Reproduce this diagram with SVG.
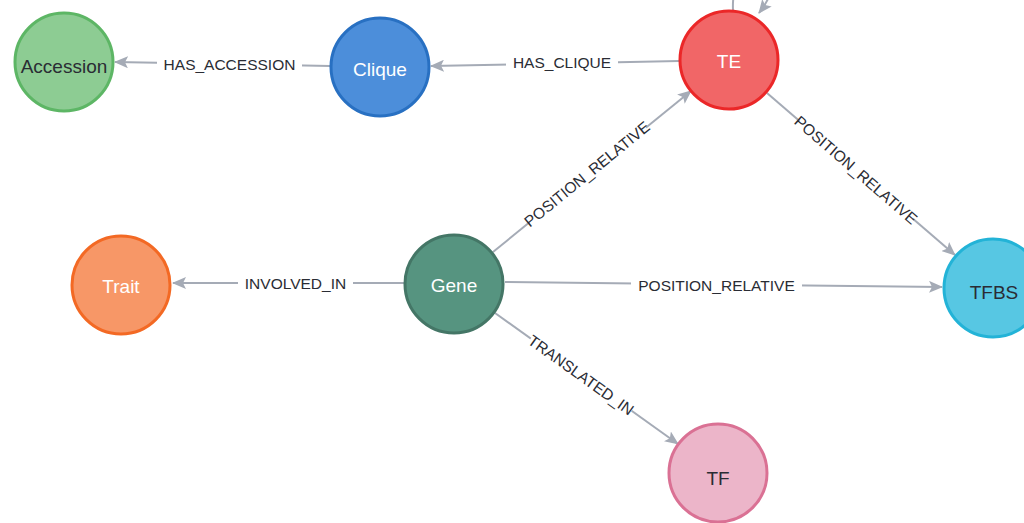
<svg xmlns="http://www.w3.org/2000/svg" width="1024" height="523" viewBox="0 0 1024 523">
  <style>
    .edge { stroke: #a5abb6; stroke-width: 2; fill: none; marker-end: url(#arrow); }
    .lbl-bg { fill: #ffffff; }
    .elabel { font-family: "Liberation Sans", Arial, sans-serif; font-size: 15.5px; fill: #2a2c34; text-anchor: middle; dominant-baseline: central; }
    .node circle { stroke-width: 3; }
    .nlabel { font-family: "Liberation Sans", Arial, sans-serif; font-size: 19px; text-anchor: middle; dominant-baseline: central; }
    .light { fill: #ffffff; }
    .dark { fill: #2a2c34; }
  </style>
  <defs>
    <marker id="arrow" markerUnits="userSpaceOnUse" markerWidth="14" markerHeight="12" refX="13" refY="6" orient="auto">
      <path d="M0,0 L14,6 L0,12 L3,6 Z" fill="#a5abb6"/>
    </marker>
  </defs>
  <rect width="1024" height="523" fill="#ffffff"/>

  <!-- relationships -->
  <g id="connectors">
    <!-- Clique -> Accession -->
    <line class="edge" x1="330" y1="66" x2="115" y2="62"/>
    <rect class="lbl-bg" x="157" y="54" width="145" height="20"/>
    <text class="elabel" x="229.5" y="64">HAS_ACCESSION</text>

    <!-- TE -> Clique -->
    <line class="edge" x1="679" y1="61" x2="431" y2="66"/>
    <rect class="lbl-bg" x="506" y="52" width="112" height="20"/>
    <text class="elabel" x="562" y="62">HAS_CLIQUE</text>

    <!-- TE self relationship -->
    <path class="edge" d="M 733 10 C 730 -50, 800 -40, 759 13"/>

    <!-- Gene -> TE -->
    <line class="edge" x1="493" y1="252" x2="691" y2="91"/>
    <g transform="translate(587 174) rotate(-39.2)">
      <rect class="lbl-bg" x="-75" y="-10" width="150" height="20"/>
      <text class="elabel" x="0" y="0">POSITION_RELATIVE</text>
    </g>

    <!-- TE -> TFBS -->
    <line class="edge" x1="767" y1="93" x2="955" y2="255"/>
    <g transform="translate(856 170) rotate(40.8)">
      <rect class="lbl-bg" x="-75" y="-10" width="150" height="20"/>
      <text class="elabel" x="0" y="0">POSITION_RELATIVE</text>
    </g>

    <!-- Gene -> TFBS -->
    <line class="edge" x1="505" y1="282" x2="942" y2="287"/>
    <rect class="lbl-bg" x="631" y="275" width="171" height="20"/>
    <text class="elabel" x="716.5" y="285">POSITION_RELATIVE</text>

    <!-- Gene -> Trait -->
    <line class="edge" x1="404" y1="283" x2="173" y2="283"/>
    <rect class="lbl-bg" x="238" y="273" width="115" height="20"/>
    <text class="elabel" x="295.5" y="283">INVOLVED_IN</text>

    <!-- Gene -> TF -->
    <line class="edge" x1="495" y1="313" x2="678" y2="444"/>
    <g transform="translate(581 375) rotate(35.6)">
      <rect class="lbl-bg" x="-62" y="-10" width="124" height="20"/>
      <text class="elabel" x="0" y="0">TRANSLATED_IN</text>
    </g>
  </g>

  <!-- nodes -->
  <g id="node-accession" class="node">
    <circle cx="64" cy="62" r="49" fill="#8dcc93" stroke="#5db665"/>
    <text class="nlabel dark" x="64" y="66">Accession</text>
  </g>
  <g id="node-clique" class="node">
    <circle cx="380" cy="67" r="49" fill="#4c8eda" stroke="#2870c2"/>
    <text class="nlabel light" x="380" y="69">Clique</text>
  </g>
  <g id="node-te" class="node">
    <circle cx="729" cy="60" r="49" fill="#f16667" stroke="#eb2728"/>
    <text class="nlabel light" x="729" y="61">TE</text>
  </g>
  <g id="node-trait" class="node">
    <circle cx="121" cy="285" r="49" fill="#f79767" stroke="#f36924"/>
    <text class="nlabel light" x="121" y="286">Trait</text>
  </g>
  <g id="node-gene" class="node">
    <circle cx="454" cy="284" r="49" fill="#569480" stroke="#447666"/>
    <text class="nlabel light" x="454" y="285">Gene</text>
  </g>
  <g id="node-tfbs" class="node">
    <circle cx="993" cy="288" r="49" fill="#57c7e3" stroke="#23b3d7"/>
    <text class="nlabel dark" x="994" y="292">TFBS</text>
  </g>
  <g id="node-tf" class="node">
    <circle cx="718" cy="473" r="49" fill="#ecb5c9" stroke="#da7194"/>
    <text class="nlabel dark" x="718" y="478">TF</text>
  </g>
</svg>
